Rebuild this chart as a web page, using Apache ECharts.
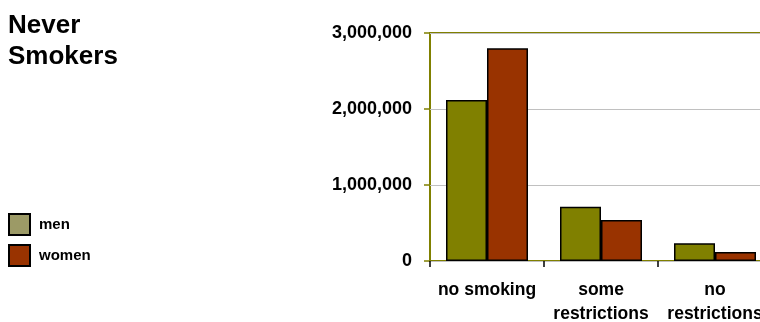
<!DOCTYPE html>
<html>
<head>
<meta charset="utf-8">
<script src="https://cdn.jsdelivr.net/npm/echarts@6/dist/echarts.min.js"></script>
<style>html,body{margin:0;padding:0;background:#fff;}#c{width:760px;height:322px;}</style>
</head>
<body>
<div id="c"></div>
<script>
const categories = ['no smoking', 'some\nrestrictions', 'no\nrestrictions'];
const menValues = [2120000, 715000, 235000];
const womenValues = [2800000, 540000, 120000];
const seriesNames = ['men', 'women'];
const titleText = 'Never\nSmokers';

const FONT = '"Liberation Sans", Arial, Helvetica, sans-serif';
const chart = echarts.init(document.getElementById('c'), null, {renderer: 'canvas'});
chart.setOption({
  animation: false,
  backgroundColor: '#fff',
  title: {
    text: titleText, left: 8, top: 10, padding: 0,
    textStyle: {fontFamily: FONT, fontSize: 26, fontWeight: 'bold', color: '#000', lineHeight: 31}
  },
  legend: {
    orient: 'vertical', left: 8, top: 213, itemGap: 8, itemWidth: 21, itemHeight: 21, padding: 0,
    icon: 'rect',
    data: [
      {name: seriesNames[0], itemStyle: {color: '#9c9a66', borderColor: '#000', borderWidth: 2}},
      {name: seriesNames[1], itemStyle: {color: '#993300', borderColor: '#000', borderWidth: 2}}
    ],
    textStyle: {fontFamily: FONT, fontSize: 15, fontWeight: 'bold', color: '#000', padding: [0, 0, 0, 4]}
  },
  grid: {
    left: 430, top: 33, width: 342, height: 228,
    containLabel: false, outerBoundsMode: 'none',
    show: true, borderColor: '#808000', borderWidth: 2, backgroundColor: 'transparent'
  },
  xAxis: {
    type: 'category', data: categories,
    axisLine: {show: false},
    axisTick: {show: true, length: 6, lineStyle: {color: '#000', width: 1.5}},
    axisLabel: {fontFamily: FONT, fontSize: 17.5, fontWeight: 'bold', color: '#000', margin: 17.5, lineHeight: 24, interval: 0}
  },
  yAxis: {
    type: 'value', min: 0, max: 3000000, interval: 1000000,
    axisLine: {show: false},
    axisTick: {show: true, length: 6, lineStyle: {color: '#808000', width: 1.5}},
    splitLine: {show: true, lineStyle: {color: '#c0c0c0', width: 1}},
    axisLabel: {
      fontFamily: FONT, fontSize: 18, fontWeight: 'bold', color: '#000', margin: 18,
      formatter: v => v.toString().replace(/\B(?=(\d{3})+(?!\d))/g, ',')
    }
  },
  series: [
    {name: seriesNames[0], type: 'bar', data: menValues, barWidth: 41, barGap: '0%',
     itemStyle: {color: '#808000', borderColor: '#000', borderWidth: 1.5}},
    {name: seriesNames[1], type: 'bar', data: womenValues, barWidth: 41, barGap: '0%',
     itemStyle: {color: '#993300', borderColor: '#000', borderWidth: 1.5}}
  ]
});
</script>
</body>
</html>
